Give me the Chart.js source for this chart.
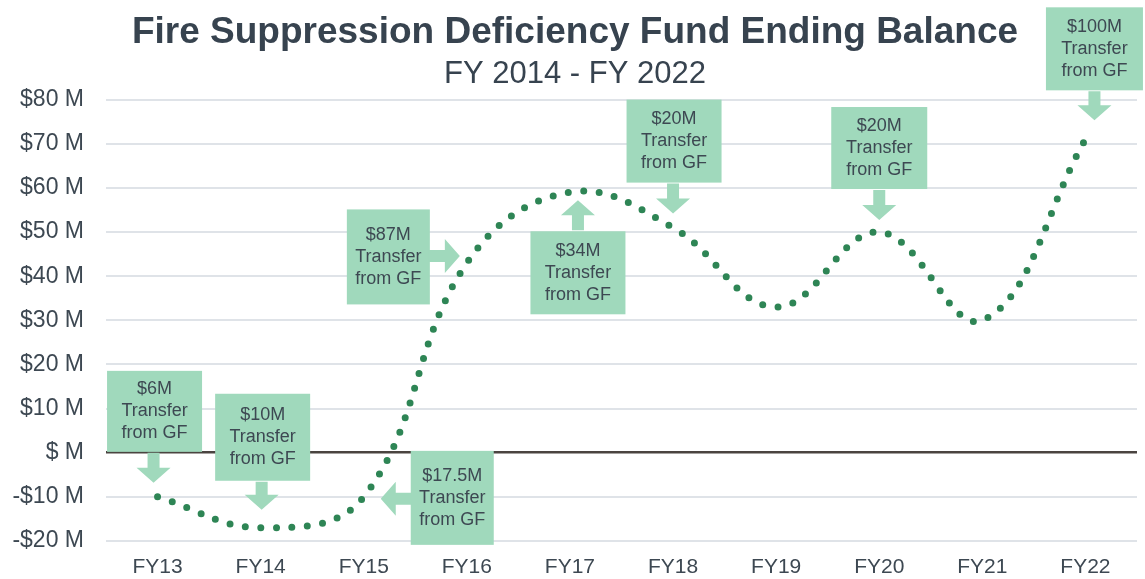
<!DOCTYPE html>
<html>
<head>
<meta charset="utf-8">
<script src="https://cdn.jsdelivr.net/npm/chart.js@4.4.0/dist/chart.umd.min.js"></script>
<style>
  html, body { margin: 0; padding: 0; background: #fff; }
  #wrap { width: 1145px; height: 579px; }
</style>
</head>
<body>
<div id="wrap"><canvas id="chart"></canvas></div>
<script>
// fund ending balance by fiscal year ($ millions)
const years = ["FY13", "FY14", "FY15", "FY16", "FY17", "FY18", "FY19", "FY20", "FY21", "FY22"];
const balance = [-10, -17, -10, 43, 59, 51, 33, 50, 30, 71];

// y axis range ($ millions)
const yMin = -20;
const yMax = 80;
const yStep = 10;

// transfers from the general fund
const transferYears = ["FY13", "FY14", "FY15", "FY16", "FY17", "FY18", "FY20", "FY22"];
const transferAmounts = ["$6M", "$10M", "$17.5M", "$87M", "$34M", "$20M", "$20M", "$100M"];

// callout placement relative to its point, in px
// dir = way the arrow points; gap = box edge to point; tip = arrow tip to point
const calloutLayout = [
  { dir: "down",  w: 95, h: 81, gap: 45, tip: 14, shift: -3,  ashift: -4 },
  { dir: "down",  w: 95, h: 87, gap: 47, tip: 18, shift: 2,   ashift: 1 },
  { dir: "left",  w: 83, h: 94, gap: 47, tip: 17, shift: 1,   ashift: 2 },
  { dir: "right", w: 83, h: 95, gap: 37, tip: 7,  shift: -6,  ashift: -7 },
  { dir: "up",    w: 95, h: 83, gap: 39, tip: 8,  shift: 8,   ashift: 8 },
  { dir: "down",  w: 95, h: 83, gap: 45, tip: 14, shift: 1,   ashift: 0 },
  { dir: "down",  w: 96, h: 82, gap: 43, tip: 12, shift: 0,   ashift: 0 },
  { dir: "down",  w: 97, h: 83, gap: 49, tip: 19, shift: 9,   ashift: 9 },
];

const FONT = "'Liberation Sans', Arial, sans-serif";
const TEXT = "#3d4852";
const BOX = "#a0d9bc";

const drawArrow = (ctx, sx, sy, tx, ty) => {
  const len = Math.hypot(tx - sx, ty - sy);
  const ux = (tx - sx) / len, uy = (ty - sy) / len;
  const nx = -uy, ny = ux;
  const bx = tx - ux * 15, by = ty - uy * 15;
  ctx.beginPath();
  ctx.moveTo(sx + nx * 6, sy + ny * 6);
  ctx.lineTo(bx + nx * 6, by + ny * 6);
  ctx.lineTo(bx + nx * 17, by + ny * 17);
  ctx.lineTo(tx, ty);
  ctx.lineTo(bx - nx * 17, by - ny * 17);
  ctx.lineTo(bx - nx * 6, by - ny * 6);
  ctx.lineTo(sx - nx * 6, sy - ny * 6);
  ctx.closePath();
  ctx.fill();
};

const calloutPlugin = {
  id: "callouts",
  beforeDatasetsDraw(chart) {
    const { ctx, scales: { x, y } } = chart;
    ctx.save();
    transferYears.forEach((fy, k) => {
      const i = years.indexOf(fy);
      const px = x.getPixelForValue(i);
      const py = y.getPixelForValue(balance[i]);
      const c = calloutLayout[k];
      let bx, by, sx, sy, tx, ty;
      if (c.dir === "down") {
        bx = px + c.shift - c.w / 2; by = py - c.gap - c.h;
        sx = tx = px + c.ashift; sy = py - c.gap + 1; ty = py - c.tip;
      } else if (c.dir === "up") {
        bx = px + c.shift - c.w / 2; by = py + c.gap;
        sx = tx = px + c.ashift; sy = py + c.gap - 1; ty = py + c.tip;
      } else if (c.dir === "left") {
        bx = px + c.gap; by = py + c.shift - c.h / 2;
        sy = ty = py + c.ashift; sx = px + c.gap + 1; tx = px + c.tip;
      } else {
        bx = px - c.gap - c.w; by = py + c.shift - c.h / 2;
        sy = ty = py + c.ashift; sx = px - c.gap - 1; tx = px - c.tip;
      }
      ctx.fillStyle = BOX;
      ctx.fillRect(bx, by, c.w, c.h);
      drawArrow(ctx, sx, sy, tx, ty);

      ctx.fillStyle = TEXT;
      ctx.font = "18px " + FONT;
      ctx.textAlign = "center";
      ctx.textBaseline = "middle";
      const lines = [transferAmounts[k], "Transfer", "from GF"];
      const cx = bx + c.w / 2, cy = by + c.h / 2;
      lines.forEach((t, j) => ctx.fillText(t, cx, cy + (j - 1) * 22));
    });
    ctx.restore();
  },
};

const moneyLabel = (v) => {
  if (v === 0) return "$ M";
  return (v < 0 ? "-$" : "$") + Math.abs(v) + " M";
};

new Chart(document.getElementById("chart"), {
  type: "line",
  data: {
    labels: years,
    datasets: [
      {
        data: balance,
        borderColor: "#2e8555",
        borderWidth: 7,
        borderDash: [0, 15.5],
        borderCapStyle: "round",
        tension: 0.4,
        pointRadius: 0,
        fill: false,
      },
    ],
  },
  options: {
    responsive: true,
    maintainAspectRatio: false,
    animation: false,
    layout: { padding: { left: 13, right: 8, top: 0, bottom: 0 } },
    plugins: {
      legend: { display: false },
      tooltip: { enabled: false },
      title: {
        display: true,
        text: "Fire Suppression Deficiency Fund Ending Balance",
        color: "#37434f",
        font: { family: FONT, size: 37, weight: "bold" },
        padding: { top: 11, bottom: 0 },
      },
      subtitle: {
        display: true,
        text: "FY 2014 - FY 2022",
        color: "#37434f",
        font: { family: FONT, size: 31 },
        padding: { top: 0, bottom: 7 },
      },
    },
    scales: {
      x: {
        offset: true,
        grid: { display: false, drawTicks: false },
        border: { display: false },
        afterFit: (s) => { s.height = 38; },
        ticks: {
          color: TEXT,
          font: { family: FONT, size: 21, lineHeight: 1 },
          padding: 16,
          autoSkip: false,
          maxRotation: 0,
        },
      },
      y: {
        min: yMin,
        max: yMax,
        border: { display: false },
        afterFit: (s) => { s.width = 93; },
        grid: {
          drawTicks: false,
          lineWidth: (c) => (c.tick && c.tick.value === 0 ? 2.5 : 2),
          color: (c) => (c.tick && c.tick.value === 0 ? "#4a4440" : "#dfe3e8"),
        },
        ticks: {
          stepSize: yStep,
          padding: 22,
          color: TEXT,
          font: { family: FONT, size: 23 },
          callback: moneyLabel,
        },
      },
    },
  },
  plugins: [calloutPlugin],
});
</script>
</body>
</html>
